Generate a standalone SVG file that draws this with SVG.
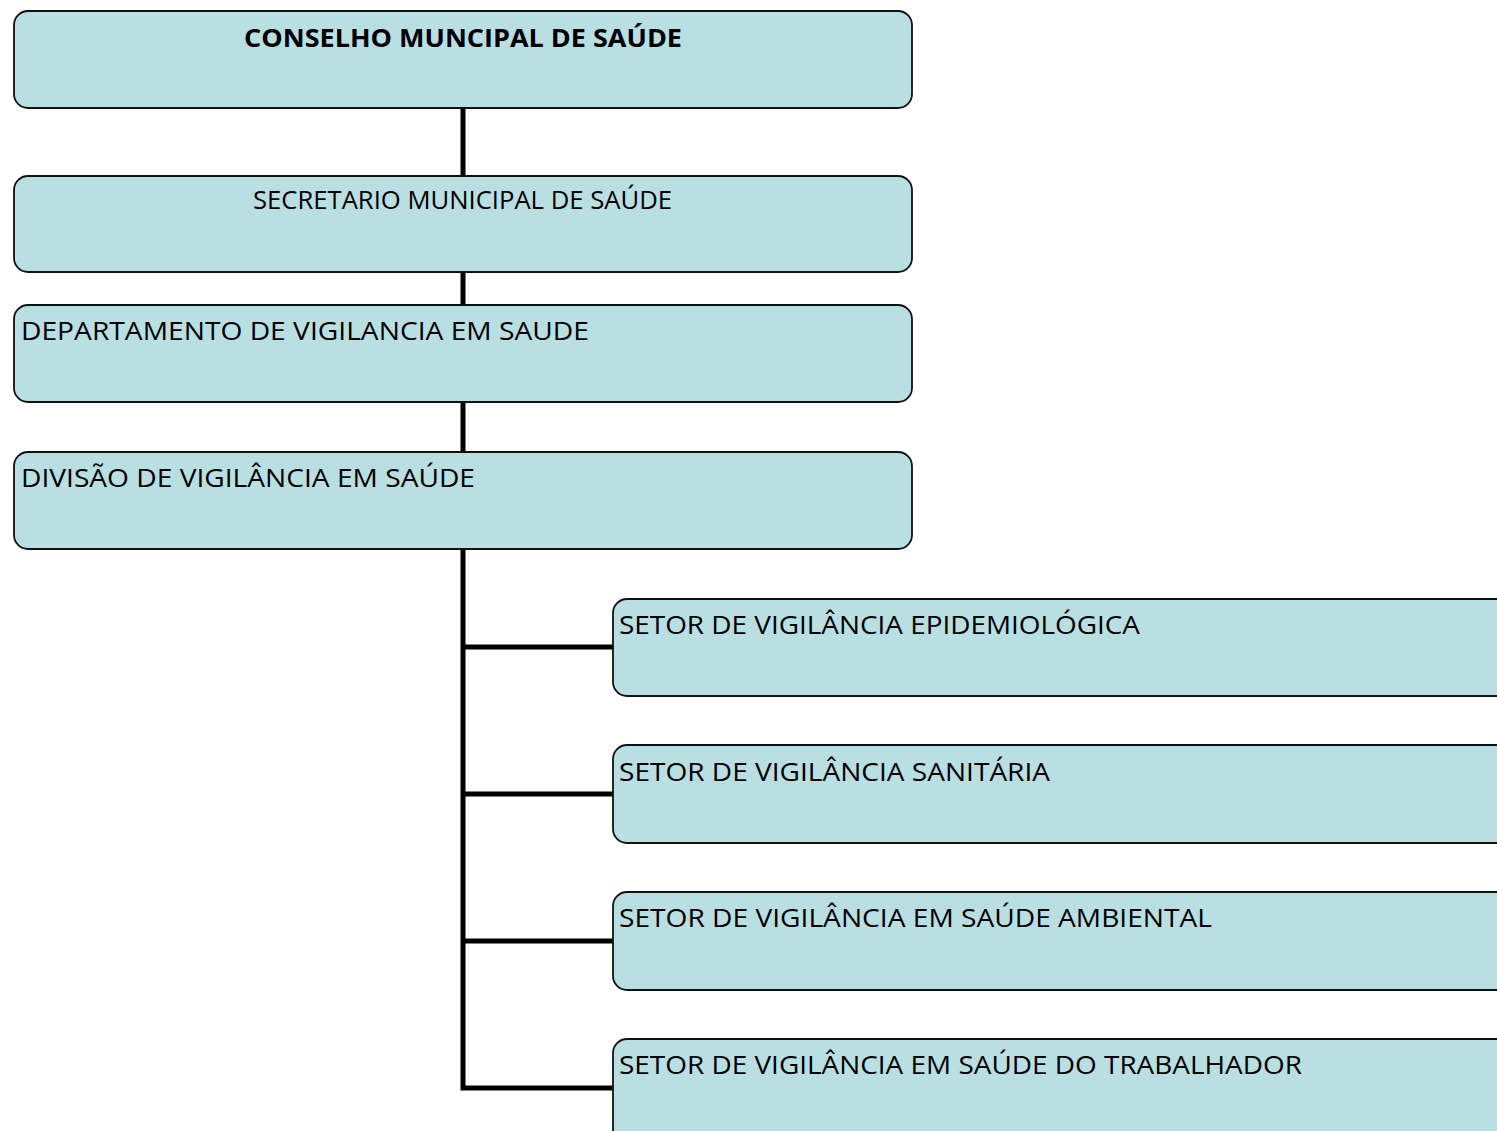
<svg xmlns="http://www.w3.org/2000/svg" width="1497" height="1131" viewBox="0 0 1497 1131">
<style>
.box{fill:#b9dfe3;stroke:#111;stroke-width:1.8}
.t{font-family:"Open Sans","Noto Sans","Liberation Sans",sans-serif;font-size:25.5px;fill:#000}
.b{font-weight:bold}
.c{stroke:#000;stroke-width:5;fill:none;stroke-linecap:butt;stroke-linejoin:miter}
</style>
<rect width="1497" height="1131" fill="#fff"/>
<g id="connectors">
<path class="c" d="M463 108V176"/>
<path class="c" d="M463 272V305"/>
<path class="c" d="M463 402V452"/>
<path class="c" d="M463 549V1088H613"/>
<path class="c" d="M463 647H613"/>
<path class="c" d="M463 794H613"/>
<path class="c" d="M463 941H613"/>
</g>
<g id="conselho">
<rect class="box" x="14" y="11" width="898" height="97" rx="14"/>
<text class="t b" x="463" y="47" text-anchor="middle" textLength="438" lengthAdjust="spacingAndGlyphs">CONSELHO MUNCIPAL DE SAÚDE</text>
</g>
<g id="secretario">
<rect class="box" x="14" y="176" width="898" height="96" rx="14"/>
<text class="t" x="462.5" y="209" text-anchor="middle" textLength="419" lengthAdjust="spacingAndGlyphs">SECRETARIO MUNICIPAL DE SAÚDE</text>
</g>
<g id="departamento">
<rect class="box" x="14" y="305" width="898" height="97" rx="14"/>
<text class="t" x="21" y="340" textLength="568" lengthAdjust="spacingAndGlyphs">DEPARTAMENTO DE VIGILANCIA EM SAUDE</text>
</g>
<g id="divisao">
<rect class="box" x="14" y="452" width="898" height="97" rx="14"/>
<text class="t" x="21" y="487" textLength="454" lengthAdjust="spacingAndGlyphs">DIVISÃO DE VIGILÂNCIA EM SAÚDE</text>
</g>
<g id="setor-epidemiologica">
<rect class="box" x="613" y="599" width="900" height="97" rx="14"/>
<text class="t" x="619" y="634" textLength="521" lengthAdjust="spacingAndGlyphs">SETOR DE VIGILÂNCIA EPIDEMIOLÓGICA</text>
</g>
<g id="setor-sanitaria">
<rect class="box" x="613" y="745" width="900" height="98" rx="14"/>
<text class="t" x="619" y="781" textLength="431" lengthAdjust="spacingAndGlyphs">SETOR DE VIGILÂNCIA SANITÁRIA</text>
</g>
<g id="setor-ambiental">
<rect class="box" x="613" y="892" width="900" height="98" rx="14"/>
<text class="t" x="619" y="927" textLength="593" lengthAdjust="spacingAndGlyphs">SETOR DE VIGILÂNCIA EM SAÚDE AMBIENTAL</text>
</g>
<g id="setor-trabalhador">
<rect class="box" x="613" y="1039" width="900" height="110" rx="14"/>
<text class="t" x="619" y="1074" textLength="683" lengthAdjust="spacingAndGlyphs">SETOR DE VIGILÂNCIA EM SAÚDE DO TRABALHADOR</text>
</g>
</svg>
